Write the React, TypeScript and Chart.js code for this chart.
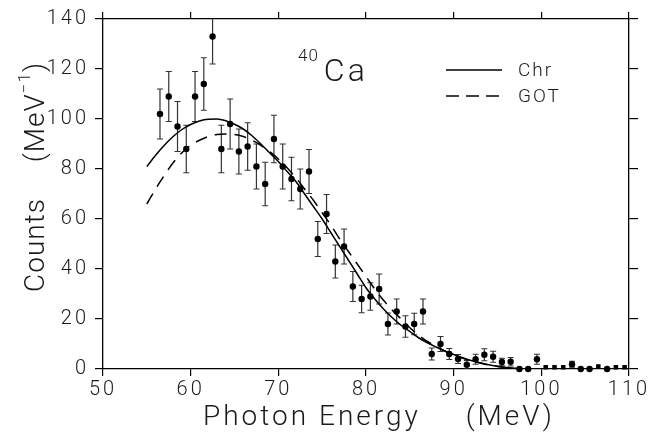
import React, { useEffect, useRef } from "react";
import { Chart, registerables } from "chart.js";

Chart.register(...registerables);

// ---- data ----
const xTickValues = [50, 60, 70, 80, 90, 100, 110];
const yTickValues = [0, 20, 40, 60, 80, 100, 120, 140];

const energies = [
  56.5, 57.5, 58.5, 59.5, 60.5, 61.5, 62.5, 63.5, 64.5, 65.5,
  66.5, 67.5, 68.5, 69.5, 70.5, 71.5, 72.5, 73.5, 74.5, 75.5,
  76.5, 77.5, 78.5, 79.5, 80.5, 81.5, 82.5, 83.5, 84.5, 85.5,
  86.5, 87.5, 88.5, 89.5, 90.5, 91.5, 92.5, 93.5, 94.5, 95.5,
  96.5, 97.5, 98.5, 99.5, 100.5, 101.5, 102.5, 103.5, 104.5, 105.5,
  106.5, 107.5, 108.5, 109.5,
];
const counts = [
  102, 109, 97, 88, 109, 114, 133, 88, 98, 87,
  89, 81, 74, 92, 81, 76, 72, 79, 52, 62,
  43, 49, 33, 28, 29, 32, 18, 23, 17, 18,
  23, 6, 10, 6, 4, 1.7, 3.9, 5.7, 4.9, 2.8,
  2.9, 0, 0, 3.9, 0.7, 0.7, 0.7, 1.9, 0, 0,
  1, 0, 0.7, 0.7,
];
const errors = [
  10, 10, 10, 9.5, 10, 10.5, 11, 9.5, 10, 9,
  9.5, 9, 8.7, 9.5, 9, 8.7, 8, 8.8, 7, 7.8,
  6.6, 7, 6, 5.5, 5.5, 6, 4.4, 5, 4.3, 4.3,
  5, 2.4, 3, 2.2, 1.8, 1.7, 2, 2.4, 2.2, 1.5,
  1.7, 0, 0, 2, 0, 0, 0, 1.2, 0, 0,
  0, 0, 0, 0,
];
const markers = [
  "circle", "circle", "circle", "circle", "circle", "circle", "circle", "circle", "circle", "circle",
  "circle", "circle", "circle", "circle", "circle", "circle", "circle", "circle", "circle", "circle",
  "circle", "circle", "circle", "circle", "circle", "circle", "circle", "circle", "circle", "circle",
  "circle", "circle", "circle", "circle", "circle", "circle", "circle", "circle", "circle", "circle",
  "circle", "circle", "circle", "circle", "rect", "rect", "rect", "circle", "circle", "circle",
  "rect", "circle", "rect", "rect",
];

const curveEnergy = [
  55, 56, 57, 58, 59, 60, 61, 62, 63, 64, 65, 66, 67, 68, 69, 70, 71, 72, 73, 74,
  75, 76, 77, 78, 79, 80, 81, 82, 83, 84, 85, 86, 87, 88, 89, 90, 91, 92, 93, 94,
  95, 96, 97, 98, 99, 100,
];
const chrCounts = [
  81, 85.5, 89.5, 93, 95.8, 97.8, 99.2, 99.9, 100, 99.3, 97.9, 96, 93.3, 90, 86.5, 83, 79, 75, 70, 65,
  60, 54.5, 49, 43.5, 38, 32.5, 28, 24, 20.5, 17.5, 15, 12.5, 10.5, 8.8, 7.2, 5.8, 4.5, 3.4, 2.5, 1.7,
  1.1, 0.6, 0.3, 0.1, 0, 0,
];
const gotCounts = [
  66, 72, 77.5, 82.5, 86.5, 89.5, 91.5, 93, 93.8, 94, 93.8, 93, 91.5, 89.5, 87, 84, 80.5, 76.5, 72, 67.5,
  62.5, 57.5, 52, 47, 42, 37, 32, 27.5, 23.5, 20, 16.5, 13.5, 11, 9, 7.2, 5.7, 4.4, 3.3, 2.4, 1.6,
  1.0, 0.5, 0.2, 0, 0, 0,
];

const xTitleWords = ["Photon Energy", "(MeV)"];
const yTitleMain = "Counts";
const yTitleUnit = "(MeV";
const yTitleSup = "\u22121";
const nucleusMass = "40";
const nucleusName = "Ca";
const legendNames = ["Chr", "GOT"];

const FONT = "Roboto, 'Liberation Sans', sans-serif";
const TEXT = "#1a1a1a";

const overlay = {
  id: "overlay",
  beforeDraw(chart: any) {
    chart.ctx.letterSpacing = "3px";
  },
  beforeDatasetsDraw(chart: any) {
    const { ctx, chartArea } = chart;
    const xs = chart.scales.x;
    const ys = chart.scales.y;
    ctx.save();
    ctx.beginPath();
    ctx.rect(chartArea.left, chartArea.top, chartArea.right - chartArea.left, chartArea.bottom - chartArea.top);
    ctx.clip();
    ctx.strokeStyle = "#333";
    ctx.lineWidth = 1.2;
    const cap = 3;
    for (let i = 0; i < energies.length; i++) {
      const e = errors[i];
      if (!e) continue;
      const px = xs.getPixelForValue(energies[i]);
      const y1 = ys.getPixelForValue(counts[i] + e);
      const y2 = ys.getPixelForValue(Math.max(0, counts[i] - e));
      ctx.beginPath();
      ctx.moveTo(px, y1);
      ctx.lineTo(px, y2);
      ctx.moveTo(px - cap, y1);
      ctx.lineTo(px + cap, y1);
      ctx.moveTo(px - cap, y2);
      ctx.lineTo(px + cap, y2);
      ctx.stroke();
    }
    ctx.restore();
  },
  afterDraw(chart: any) {
    const { ctx, chartArea } = chart;
    ctx.save();
    ctx.fillStyle = TEXT;
    ctx.strokeStyle = "#000";

    // x title
    ctx.textBaseline = "alphabetic";
    ctx.textAlign = "left";
    ctx.font = `300 28px ${FONT}`;
    ctx.letterSpacing = "3px";
    ctx.fillText(xTitleWords[0], chartArea.left + 100, chartArea.bottom + 56);
    ctx.textAlign = "right";
    ctx.fillText(xTitleWords[1], chartArea.left + 452, chartArea.bottom + 56);

    // y title (rotated)
    ctx.save();
    ctx.translate(chartArea.left - 59, chartArea.bottom - 77);
    ctx.rotate(-Math.PI / 2);
    ctx.textBaseline = "alphabetic";
    ctx.textAlign = "left";
    ctx.letterSpacing = "1px";
    ctx.font = `300 28px ${FONT}`;
    ctx.fillText(yTitleMain, 0, 0);
    let off = ctx.measureText(yTitleMain).width + 36;
    ctx.fillText(yTitleUnit, off, 0);
    off += ctx.measureText(yTitleUnit).width;
    ctx.font = `300 17px ${FONT}`;
    ctx.fillText(yTitleSup, off, -14);
    off += ctx.measureText(yTitleSup).width;
    ctx.font = `300 28px ${FONT}`;
    ctx.fillText(")", off, 0);
    ctx.restore();

    // 40Ca label
    const lx = chartArea.left + 195;
    const ly = chartArea.top + 62;
    ctx.textBaseline = "alphabetic";
    ctx.textAlign = "left";
    ctx.letterSpacing = "1px";
    ctx.font = `300 17px ${FONT}`;
    ctx.fillText(nucleusMass, lx, ly - 20);
    const mw = ctx.measureText(nucleusMass).width;
    ctx.letterSpacing = "3px";
    ctx.font = `300 32px ${FONT}`;
    ctx.fillText(nucleusName, lx + mw + 5, ly);

    // legend
    const gx = chartArea.left + 343;
    const gy = [chartArea.top + 51, chartArea.top + 77];
    ctx.lineWidth = 1.4;
    ctx.textBaseline = "middle";
    ctx.letterSpacing = "2px";
    ctx.font = `300 19px ${FONT}`;
    for (let k = 0; k < 2; k++) {
      ctx.beginPath();
      ctx.setLineDash(k === 0 ? [] : [13, 7]);
      ctx.moveTo(gx, gy[k]);
      ctx.lineTo(gx + 56, gy[k]);
      ctx.stroke();
      ctx.setLineDash([]);
      ctx.fillText(legendNames[k], gx + 72, gy[k] + 1);
    }
    ctx.restore();
    ctx.letterSpacing = "0px";
  },
};

export default function App() {
  const canvasRef = useRef<HTMLCanvasElement | null>(null);

  useEffect(() => {
    document.body.style.margin = "0";
    const canvas = canvasRef.current;
    if (!canvas) return;

    const grid = {
      display: true,
      drawOnChartArea: false,
      drawTicks: true,
      tickLength: 7,
      color: "#000",
      lineWidth: 1.2,
    };
    const border = { display: true, color: "#000", width: 1.3 };

    const chart = new Chart(canvas, {
      type: "scatter",
      data: {
        datasets: [
          {
            label: "Chr",
            type: "line",
            data: curveEnergy.map((e, i) => ({ x: e, y: chrCounts[i] })),
            borderColor: "#000",
            borderWidth: 1.5,
            pointRadius: 0,
            cubicInterpolationMode: "monotone",
            fill: false,
          },
          {
            label: "GOT",
            type: "line",
            data: curveEnergy.map((e, i) => ({ x: e, y: gotCounts[i] })),
            borderColor: "#000",
            borderWidth: 1.5,
            borderDash: [12, 8],
            pointRadius: 0,
            cubicInterpolationMode: "monotone",
            fill: false,
          },
          {
            label: "data",
            data: energies.map((e, i) => ({ x: e, y: counts[i] })),
            backgroundColor: "#000",
            borderColor: "#000",
            borderWidth: 0,
            pointRadius: 3.2,
            pointStyle: markers as any,
            showLine: false,
            clip: false,
          } as any,
        ],
      },
      options: {
        responsive: false,
        animation: false,
        devicePixelRatio: 1,
        layout: { padding: 0 },
        plugins: {
          legend: { display: false },
          tooltip: { enabled: false },
        },
        scales: {
          x: {
            type: "linear",
            position: "bottom",
            min: 50,
            max: 110,
            afterBuildTicks: (s: any) => {
              s.ticks = xTickValues.map((v) => ({ value: v }));
            },
            ticks: {
              padding: 2,
              color: TEXT,
              font: { family: FONT, size: 20, weight: "300" },
            },
            grid,
            border,
            afterFit: (s: any) => {
              s.height = 66;
            },
          },
          x2: {
            type: "linear",
            position: "top",
            min: 50,
            max: 110,
            afterBuildTicks: (s: any) => {
              s.ticks = xTickValues.map((v) => ({ value: v }));
            },
            ticks: { display: false },
            grid,
            border,
            afterFit: (s: any) => {
              s.height = 19;
            },
          },
          y: {
            type: "linear",
            position: "left",
            min: 0,
            max: 140,
            afterBuildTicks: (s: any) => {
              s.ticks = yTickValues.map((v) => ({ value: v }));
            },
            ticks: {
              padding: 6,
              color: TEXT,
              font: { family: FONT, size: 20, weight: "300" },
            },
            grid: { ...grid, tickLength: 8 },
            border,
            afterFit: (s: any) => {
              s.width = 103;
            },
          },
          y2: {
            type: "linear",
            position: "right",
            min: 0,
            max: 140,
            afterBuildTicks: (s: any) => {
              s.ticks = yTickValues.map((v) => ({ value: v }));
            },
            ticks: { display: false },
            grid: { ...grid, tickLength: 9 },
            border,
            afterFit: (s: any) => {
              s.width = 24;
            },
          },
        },
      },
      plugins: [overlay],
    } as any);

    return () => chart.destroy();
  }, []);

  return (
    <div style={{ position: "absolute", left: 0, top: 0, width: 653, height: 435, background: "#fff" }}>
      <canvas ref={canvasRef} width={653} height={435} style={{ display: "block" }} />
    </div>
  );
}
